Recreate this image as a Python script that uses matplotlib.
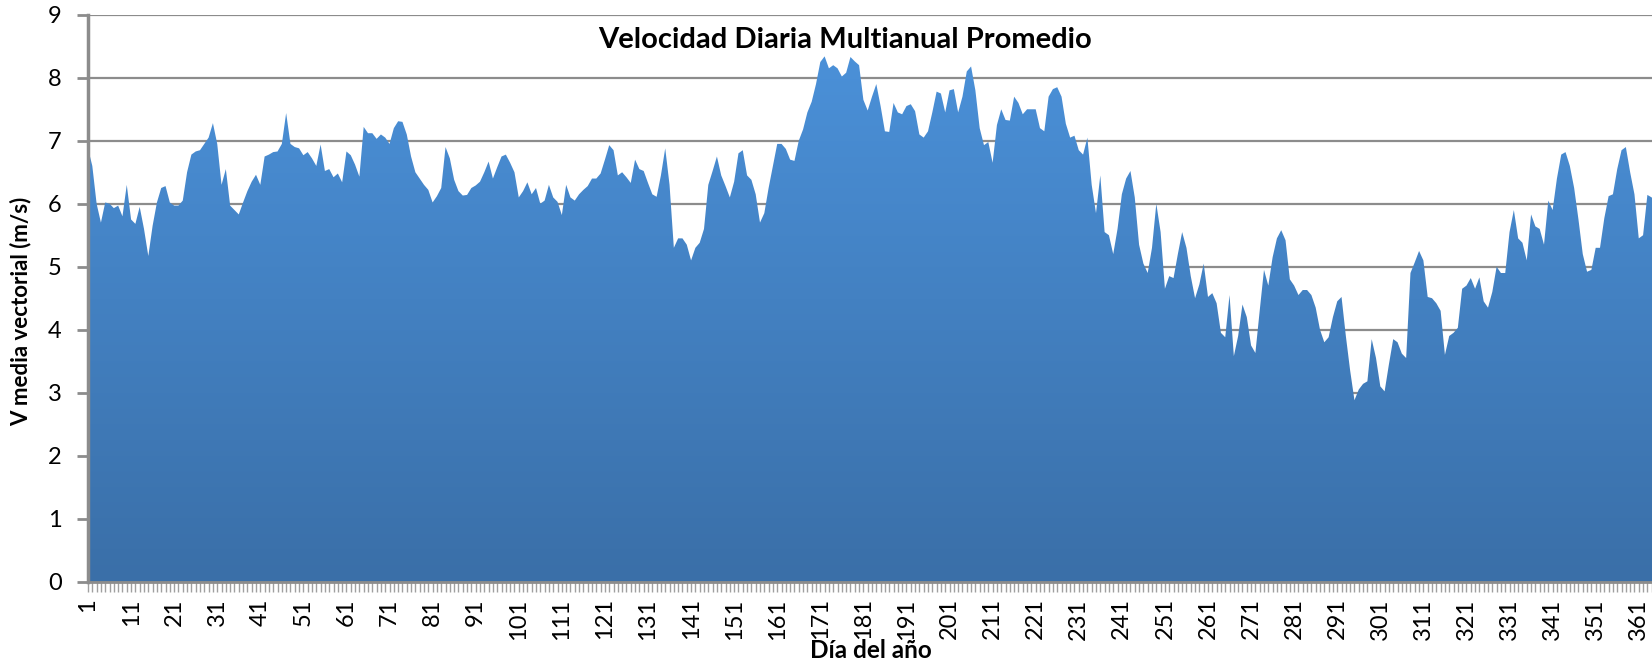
import numpy as np
import matplotlib
matplotlib.use('Agg')
import matplotlib.pyplot as plt
from matplotlib.colors import LinearSegmentedColormap
from matplotlib.patches import Polygon

plt.rcParams['font.family'] = ['Lato', 'DejaVu Sans']

# velocidad media vectorial diaria (m/s), dias 1..365
velocidad = [
    6.88, 6.6, 6.0, 5.7, 6.02, 6.0, 5.93, 5.97, 5.8, 6.3,
    5.75, 5.68, 5.95, 5.6, 5.17, 5.65, 6.02, 6.25, 6.28, 6.02,
    5.97, 5.97, 6.05, 6.5, 6.78, 6.83, 6.85, 6.95, 7.05, 7.28,
    6.95, 6.3, 6.55, 5.97, 5.9, 5.83, 6.02, 6.2, 6.35, 6.46,
    6.3, 6.75, 6.78, 6.82, 6.83, 6.95, 7.44, 6.95, 6.9, 6.88,
    6.77, 6.82, 6.72, 6.6, 6.94, 6.52, 6.55, 6.42, 6.48, 6.34,
    6.83, 6.77, 6.62, 6.43, 7.22, 7.12, 7.12, 7.03, 7.1, 7.05,
    6.95, 7.2, 7.31, 7.3, 7.1, 6.75, 6.5, 6.4, 6.3, 6.22,
    6.02, 6.12, 6.25, 6.9, 6.72, 6.38, 6.2, 6.13, 6.14, 6.25,
    6.29, 6.35, 6.5, 6.67, 6.4, 6.58, 6.75, 6.78, 6.65, 6.5,
    6.1, 6.2, 6.34, 6.15, 6.25, 6.0, 6.05, 6.3, 6.1, 6.03,
    5.82, 6.3, 6.1, 6.05, 6.15, 6.22, 6.28, 6.4, 6.4, 6.48,
    6.7, 6.93, 6.85, 6.45, 6.5, 6.42, 6.33, 6.7, 6.55, 6.52,
    6.33, 6.15, 6.11, 6.45, 6.88, 6.3, 5.3, 5.45, 5.45, 5.35,
    5.1, 5.3, 5.38, 5.6, 6.3, 6.52, 6.75, 6.45, 6.28, 6.1,
    6.35, 6.8, 6.85, 6.45, 6.38, 6.15, 5.7, 5.85, 6.25, 6.6,
    6.95, 6.95, 6.87, 6.7, 6.68, 7.0, 7.18, 7.45, 7.62, 7.9,
    8.25, 8.34, 8.15, 8.2, 8.15, 8.02, 8.08, 8.33, 8.26, 8.2,
    7.65, 7.48, 7.7, 7.9, 7.55, 7.15, 7.14, 7.6, 7.45, 7.42,
    7.55, 7.58, 7.47, 7.1, 7.05, 7.15, 7.45, 7.78, 7.75, 7.45,
    7.8, 7.82, 7.45, 7.7, 8.1, 8.18, 7.8, 7.2, 6.93, 6.98,
    6.65, 7.25, 7.5, 7.33, 7.32, 7.7, 7.6, 7.42, 7.5, 7.5,
    7.5, 7.2, 7.15, 7.7, 7.82, 7.85, 7.7, 7.27, 7.05, 7.08,
    6.85, 6.78, 7.05, 6.3, 5.85, 6.45, 5.55, 5.5, 5.2, 5.6,
    6.15, 6.4, 6.52, 6.1, 5.35, 5.05, 4.9, 5.3, 6.0, 5.55,
    4.65, 4.85, 4.82, 5.2, 5.55, 5.3, 4.85, 4.5, 4.72, 5.05,
    4.52, 4.58, 4.42, 3.95, 3.88, 4.55, 3.58, 3.9, 4.4, 4.2,
    3.75, 3.63, 4.3, 4.95, 4.7, 5.15, 5.45, 5.58, 5.42, 4.8,
    4.7, 4.55, 4.63, 4.63, 4.55, 4.35, 4.0, 3.8, 3.88, 4.2,
    4.45, 4.52, 3.9, 3.35, 2.88, 3.05, 3.14, 3.18, 3.85, 3.55,
    3.1, 3.02, 3.45, 3.85, 3.8, 3.62, 3.55, 4.9, 5.07, 5.25,
    5.1, 4.52, 4.5, 4.42, 4.3, 3.6, 3.9, 3.95, 4.03, 4.65,
    4.7, 4.82, 4.65, 4.83, 4.45, 4.35, 4.6, 5.0, 4.9, 4.9,
    5.55, 5.9, 5.45, 5.38, 5.1, 5.83, 5.64, 5.6, 5.35, 6.05,
    5.9, 6.4, 6.78, 6.82, 6.6, 6.25, 5.75, 5.2, 4.92, 4.95,
    5.3, 5.3, 5.77, 6.12, 6.15, 6.55, 6.85, 6.9, 6.5, 6.15,
    5.45, 5.5, 6.14, 6.1, 6.0,
]
dias = list(range(1, len(velocidad) + 1))
etiquetas_x = list(range(1, len(velocidad) + 1, 10))
niveles_y = list(range(0, 10))

gris = '#8c8c8c'

fig = plt.figure(figsize=(16.52, 6.62), dpi=100)
ax = fig.add_axes([88 / 1652, 80.4 / 662, 1568 / 1652, 566.8 / 662])

# area con degradado azul
borde = np.column_stack([
    np.r_[dias[0], dias, dias[-1]],
    np.r_[0, velocidad, 0],
])
area = Polygon(borde, closed=True, facecolor='none', edgecolor='none')
ax.add_patch(area)
azules = LinearSegmentedColormap.from_list('azules', ['#3a6fa8', '#4c93dc'])
img = ax.imshow(np.linspace(0, 1, 256).reshape(-1, 1), extent=[dias[0], dias[-1], 0, 9],
                origin='lower', aspect='auto', cmap=azules, zorder=2)
img.set_clip_path(area)

ax.set_xlim(dias[0], dias[-1])
ax.set_ylim(0, 9)
ax.set_yticks(niveles_y)
ax.yaxis.grid(True, color=gris, linewidth=1.6)
ax.set_axisbelow(True)

ax.set_xticks(etiquetas_x)
ax.set_xticks(dias, minor=True)
ax.tick_params(axis='x', which='both', direction='out', length=7, width=1, color='#a0a0a0')
ax.tick_params(axis='x', which='major', labelrotation=90, labelsize=17, pad=5)
ax.tick_params(axis='y', direction='out', length=8, width=2, color=gris, labelsize=17, pad=11)

for lado in ['top', 'right']:
    ax.spines[lado].set_visible(False)
ax.spines['left'].set_color(gris)
ax.spines['left'].set_linewidth(2.5)
ax.spines['bottom'].set_color(gris)
ax.spines['bottom'].set_linewidth(2)

fig.text(845 / 1652, 1 - 40 / 662, 'Velocidad Diaria Multianual Promedio',
         ha='center', va='center', fontsize=21, fontweight='bold')
fig.text(21 / 1652, 1 - 311 / 662, 'V media vectorial (m/s)', rotation=90,
         ha='center', va='center', fontsize=16, fontweight='bold')
fig.text(871 / 1652, 1 - 651 / 662, 'Día del año',
         ha='center', va='center', fontsize=17.5, fontweight='bold')

fig.savefig('out.png', dpi=100)
